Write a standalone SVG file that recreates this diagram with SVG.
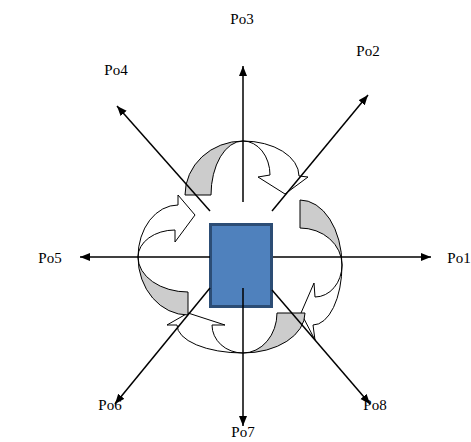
<svg xmlns="http://www.w3.org/2000/svg" width="471" height="442" viewBox="0 0 471 442">
<style>
.lbl{font-family:"Liberation Serif","Times New Roman",serif;font-size:15px;fill:#000;text-anchor:middle}
.shade{fill:#CCCCCC;stroke:#000;stroke-width:1;stroke-linejoin:miter}
.face{fill:#FFFFFF;stroke:#000;stroke-width:1;stroke-linejoin:miter}
.conn{stroke:#000;stroke-width:1.5;fill:none;marker-end:url(#ah)}
</style>
<defs>
<marker id="ah" markerUnits="userSpaceOnUse" markerWidth="11" markerHeight="9" refX="10" refY="4" orient="auto" viewBox="0 0 11 9">
<path d="M0,0 L10,4 L0,8 Z" fill="#000"/>
</marker>
</defs>
<rect width="471" height="442" fill="#fff"/>
<g id="cycle">
<g id="arrow-top">
<path class="shade" d="M185,195 A58,54 0 0 1 243,141 A32,54 0 0 0 211,195 Z"/>
<path class="face" d="M243,141 A56,35 0 0 1 299,176 L308,177 L285,194 L258,177 L270,175 A27,34 0 0 0 243,141 Z"/>
</g>
<g id="arrow-right">
<path class="shade" d="M300,200 A42,65 0 0 1 342,265 A42,37 0 0 0 300,228 Z"/>
<path class="face" d="M342,265 A29,60 0 0 1 313,325 L315,340 L301,313 L314,283 L315,297 A27,32 0 0 0 342,265 Z"/>
</g>
<g id="arrow-bottom">
<path class="shade" d="M277,313 L305,313 A62,40 0 0 1 243,353 A34,40 0 0 0 277,313 Z"/>
<path class="face" d="M243,353 A66,28 0 0 1 177,325 L167,325 L188,313 L225,325 L212,325 A31,28 0 0 0 243,353 Z"/>
</g>
<g id="arrow-left">
<path class="shade" d="M138,257 A50,58 0 0 0 188,315 L188,292 A50,35 0 0 1 138,257 Z"/>
<path class="face" d="M138,257 A40,52 0 0 1 178,205 L178,195 L195,215 L175,242 L175,230 A37,27 0 0 0 138,257 Z"/>
</g>
</g>
<g id="center">
<rect x="210.5" y="224.5" width="61" height="82" fill="#4F81BD" stroke="#2C4D75" stroke-width="3"/>
</g>
<g id="connectors">
<line class="conn" x1="243" y1="202" x2="243" y2="66"/>
<line class="conn" x1="272" y1="211" x2="368" y2="95"/>
<line class="conn" x1="210" y1="211" x2="117" y2="106"/>
<line class="conn" x1="273" y1="257" x2="431" y2="257"/>
<line class="conn" x1="210" y1="257" x2="80" y2="257"/>
<line class="conn" x1="210" y1="288" x2="115" y2="404"/>
<line class="conn" x1="243" y1="288" x2="243" y2="426"/>
<line class="conn" x1="272" y1="290" x2="370" y2="404"/>
</g>
<g id="po1"><text class="lbl" x="459" y="263">Po1</text></g>
<g id="po2"><text class="lbl" x="368" y="56">Po2</text></g>
<g id="po3"><text class="lbl" x="242" y="24">Po3</text></g>
<g id="po4"><text class="lbl" x="116" y="75">Po4</text></g>
<g id="po5"><text class="lbl" x="50" y="263">Po5</text></g>
<g id="po6"><text class="lbl" x="110" y="410">Po6</text></g>
<g id="po7"><text class="lbl" x="243" y="437">Po7</text></g>
<g id="po8"><text class="lbl" x="375" y="410">Po8</text></g>
</svg>
